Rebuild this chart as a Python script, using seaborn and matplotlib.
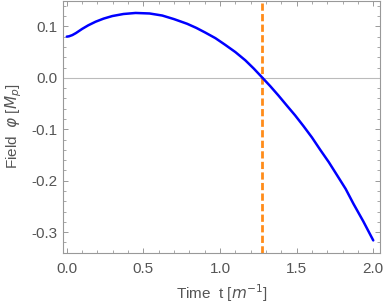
import matplotlib
matplotlib.use("Agg")
import matplotlib.pyplot as plt
from matplotlib.ticker import MultipleLocator, FormatStrFormatter
import seaborn as sns
import pandas as pd

# values
t = [0.0, 0.014, 0.036, 0.06, 0.10, 0.14, 0.188, 0.24, 0.297, 0.37, 0.449,
     0.54, 0.623, 0.70, 0.785, 0.845, 0.903, 0.97, 1.034, 1.10, 1.165, 1.22,
     1.277, 1.327, 1.38, 1.436, 1.49, 1.545, 1.60, 1.654, 1.71, 1.763, 1.82,
     1.871, 1.935, 2.0]
phi = [0.080, 0.0806, 0.083, 0.087, 0.095, 0.102, 0.109, 0.115, 0.120, 0.124, 0.126,
       0.125, 0.121, 0.114, 0.105, 0.097, 0.088, 0.077, 0.064, 0.050, 0.034, 0.018,
       0.0, -0.016, -0.034, -0.054, -0.073, -0.094, -0.116, -0.140, -0.164, -0.189, -0.216,
       -0.245, -0.279, -0.316]
t_cross = 1.277

df = pd.DataFrame({"t": t, "phi": phi})

sns.set_style("ticks")
plt.rcParams["font.family"] = ["Liberation Sans", "DejaVu Sans"]
plt.rcParams["mathtext.fontset"] = "dejavusans"

fig = plt.figure(figsize=(3.84, 3.06), dpi=100)
ax = fig.add_axes([0.164, 0.174, 0.826, 0.824])

ax.axhline(0, color="#bbbbbb", lw=0.8, zorder=1)
sns.lineplot(data=df, x="t", y="phi", color="#0000ff", lw=1.8, ax=ax, zorder=3)
ax.axvline(t_cross, color="#ff8c1a", lw=2.0, ls=(0, (2.6, 1.2)), zorder=2)

ax.set_xlim(-0.025, 2.045)
ax.set_ylim(-0.34, 0.15)
ax.xaxis.set_major_locator(MultipleLocator(0.5))
ax.xaxis.set_minor_locator(MultipleLocator(0.1))
ax.yaxis.set_major_locator(MultipleLocator(0.1))
ax.yaxis.set_minor_locator(MultipleLocator(0.02))
ax.xaxis.set_major_formatter(FormatStrFormatter("%.1f"))
ax.yaxis.set_major_formatter(FormatStrFormatter("%.1f"))

gray = "#999999"
for s in ax.spines.values():
    s.set_color(gray)
    s.set_linewidth(0.8)
ax.tick_params(which="both", direction="in", top=True, right=True, color=gray,
               labelcolor="#555555", labelsize=11)
ax.tick_params(which="major", length=3.6, width=0.7)
ax.tick_params(which="minor", length=2.0, width=0.6)
ax.tick_params(axis="x", which="major", pad=7)
ax.tick_params(axis="y", which="major", pad=4)

ax.set_xlabel(r"Time  t [$m^{-1}$]", fontsize=11, color="#555555", labelpad=4)
ax.set_ylabel(r"Field  $\varphi$ [$M_p$]", fontsize=11, color="#555555", labelpad=5)

fig.savefig("out.png", dpi=100)
